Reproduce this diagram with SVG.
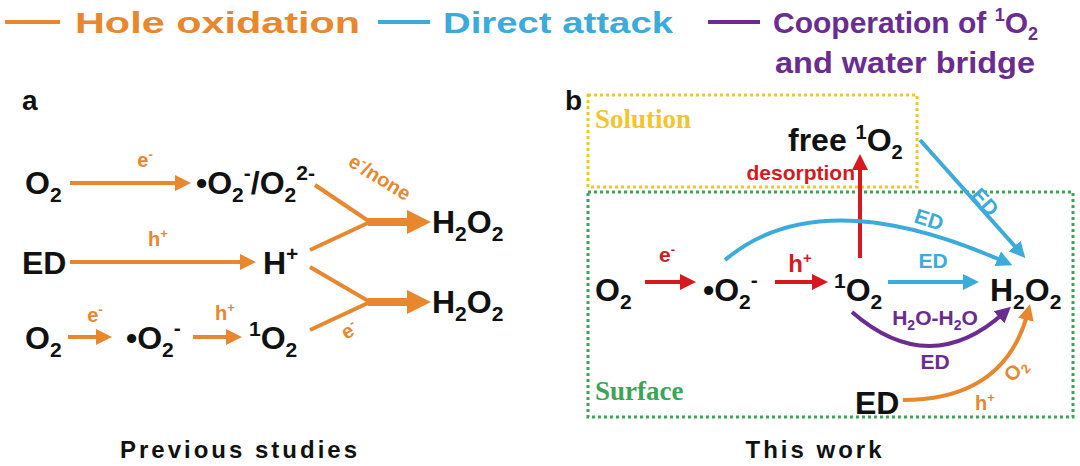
<svg xmlns="http://www.w3.org/2000/svg" width="1080" height="466" viewBox="0 0 1080 466">
<style>
text{font-family:"Liberation Sans",Arial,sans-serif;font-weight:bold}
.n{font-size:32px;fill:#111}
.lo{font-size:20px;fill:#E8872E}
.lb{font-size:21px;fill:#3AABDB}
.lr{font-size:21px;fill:#D7191F}
.lp{font-size:21px;fill:#6A2C91}
.leg{font-size:30px}
.o{stroke:#E8872E;stroke-width:4;fill:none}
.b{stroke:#3AABDB;stroke-width:4;fill:none}
.r{stroke:#D7191F;stroke-width:4;fill:none}
.p{stroke:#6A2C91;stroke-width:4;fill:none}
.cap{font-size:24px;fill:#111;letter-spacing:3px}
</style>
<defs>
<marker id="ao" markerWidth="4" markerHeight="4" refX="2" refY="2" orient="auto" markerUnits="strokeWidth"><path d="M0,0L4,2L0,4z" fill="#E8872E"/></marker>
<marker id="ab" markerWidth="4" markerHeight="4" refX="2" refY="2" orient="auto" markerUnits="strokeWidth"><path d="M0,0L4,2L0,4z" fill="#3AABDB"/></marker>
<marker id="ar" markerWidth="4" markerHeight="4" refX="2" refY="2" orient="auto" markerUnits="strokeWidth"><path d="M0,0L4,2L0,4z" fill="#D7191F"/></marker>
<marker id="ap" markerWidth="4" markerHeight="4" refX="2" refY="2" orient="auto" markerUnits="strokeWidth"><path d="M0,0L4,2L0,4z" fill="#6A2C91"/></marker>
<marker id="aot" markerWidth="3" markerHeight="3" refX="1" refY="1.5" orient="auto" markerUnits="strokeWidth"><path d="M0,0L3,1.5L0,3z" fill="#E8872E"/></marker>
</defs>
<rect width="1080" height="466" fill="#fff"/>
<g id="legend">
<line x1="5" y1="22" x2="60" y2="22" class="o"/>
<text x="75" y="33" class="leg" fill="#E8872E" textLength="285" lengthAdjust="spacingAndGlyphs">Hole oxidation</text>
<line x1="378" y1="22" x2="430" y2="22" class="b"/>
<text x="443" y="33" class="leg" fill="#3AABDB" textLength="230" lengthAdjust="spacingAndGlyphs">Direct attack</text>
<line x1="708" y1="22" x2="760" y2="22" class="p"/>
<text x="773" y="33" class="leg" fill="#6A2C91">Cooperation of <tspan font-size="18" dy="-12">1</tspan><tspan dy="12">O</tspan><tspan font-size="18" dy="7">2</tspan></text>
<text x="775" y="73" class="leg" fill="#6A2C91" textLength="260" lengthAdjust="spacingAndGlyphs">and water bridge</text>
</g>
<g id="panel-labels">
<text x="22" y="110" font-size="28" fill="#111">a</text>
<text x="565" y="110" font-size="28" fill="#111">b</text>
<text x="240" y="458" class="cap" text-anchor="middle">Previous studies</text>
<text x="815" y="458" class="cap" text-anchor="middle">This work</text>
</g>
<g id="boxes">
<rect x="588" y="95" width="329" height="92" fill="none" stroke="#F2C530" stroke-width="3" stroke-dasharray="3,3"/>
<rect x="588" y="192" width="485" height="225" fill="none" stroke="#3AA655" stroke-width="3" stroke-dasharray="3,3"/>
<text x="595" y="128" font-size="27" fill="#F2C530" style="font-family:'Liberation Serif',serif">Solution</text>
<text x="595" y="400" font-size="27" fill="#3AA655" style="font-family:'Liberation Serif',serif">Surface</text>
</g>
<g id="nodes-a">
<text id="a-o2-1" x="25" y="194" class="n">O<tspan font-size="21" dy="8">2</tspan></text>
<text id="a-sup" x="196" y="194" class="n">•O<tspan font-size="21" dy="8">2</tspan><tspan font-size="21" dy="-22">-</tspan><tspan dy="14">/O</tspan><tspan font-size="21" dy="8">2</tspan><tspan font-size="21" dy="-22">2-</tspan></text>
<text id="a-ed" x="22" y="274" class="n">ED</text>
<text id="a-h" x="263" y="274" class="n">H<tspan font-size="21" dy="-13">+</tspan></text>
<text id="a-o2-2" x="25" y="349" class="n">O<tspan font-size="21" dy="8">2</tspan></text>
<text id="a-sup2" x="126" y="349" class="n">•O<tspan font-size="21" dy="8">2</tspan><tspan font-size="21" dy="-22">-</tspan></text>
<text id="a-1o2" x="249" y="349" class="n"><tspan font-size="21" dy="-13">1</tspan><tspan dy="13">O</tspan><tspan font-size="21" dy="8">2</tspan></text>
<text id="a-h2o2-1" x="432" y="233" class="n">H<tspan font-size="21" dy="8">2</tspan><tspan dy="-8">O</tspan><tspan font-size="21" dy="8">2</tspan></text>
<text id="a-h2o2-2" x="432" y="313" class="n">H<tspan font-size="21" dy="8">2</tspan><tspan dy="-8">O</tspan><tspan font-size="21" dy="8">2</tspan></text>
</g>
<g id="nodes-b">
<text id="b-free" x="788" y="151" class="n" font-size="30">free <tspan font-size="20" dy="-12">1</tspan><tspan dy="12">O</tspan><tspan font-size="20" dy="8">2</tspan></text>
<text id="b-o2" x="595" y="301" class="n">O<tspan font-size="21" dy="8">2</tspan></text>
<text id="b-sup" x="703" y="301" class="n">•O<tspan font-size="21" dy="8">2</tspan><tspan font-size="21" dy="-22">-</tspan></text>
<text id="b-1o2" x="834" y="301" class="n"><tspan font-size="21" dy="-13">1</tspan><tspan dy="13">O</tspan><tspan font-size="21" dy="8">2</tspan></text>
<text id="b-h2o2" x="990" y="301" class="n">H<tspan font-size="21" dy="8">2</tspan><tspan dy="-8">O</tspan><tspan font-size="21" dy="8">2</tspan></text>
<text id="b-ed" x="855" y="414" class="n">ED</text>
</g>
<g id="connectors">
<line x1="70" y1="183" x2="183" y2="183" class="o" marker-end="url(#ao)"/>
<text x="145" y="167" class="lo" text-anchor="middle">e<tspan font-size="13" dy="-8">-</tspan></text>
<line x1="70" y1="262" x2="248" y2="262" class="o" marker-end="url(#ao)"/>
<text x="158" y="246" class="lo" text-anchor="middle">h<tspan font-size="13" dy="-8">+</tspan></text>
<line x1="68" y1="337" x2="104" y2="337" class="o" marker-end="url(#ao)"/>
<text x="95" y="322" class="lo" text-anchor="middle">e<tspan font-size="13" dy="-8">-</tspan></text>
<line x1="193" y1="337" x2="234" y2="337" class="o" marker-end="url(#ao)"/>
<text x="225" y="320" class="lo" text-anchor="middle">h<tspan font-size="13" dy="-8">+</tspan></text>
<path d="M315,185L370,222L310,250" class="o"/>
<line x1="368" y1="222" x2="415" y2="222" stroke="#E8872E" stroke-width="8" marker-end="url(#aot)"/>
<text x="0" y="0" class="lo" transform="translate(347,165) rotate(32)">e<tspan font-size="13" dy="-8">-</tspan><tspan dy="8">/none</tspan></text>
<path d="M310,267L370,302L310,330" class="o"/>
<line x1="368" y1="302" x2="415" y2="302" stroke="#E8872E" stroke-width="8" marker-end="url(#aot)"/>
<text x="0" y="0" class="lo" transform="translate(346,340) rotate(-30)">e<tspan font-size="13" dy="-8">-</tspan></text>

<line x1="645" y1="282" x2="688" y2="282" class="r" marker-end="url(#ar)"/>
<text x="667" y="262" class="lr" text-anchor="middle">e<tspan font-size="13" dy="-8">-</tspan></text>
<line x1="775" y1="282" x2="820" y2="282" class="r" marker-end="url(#ar)"/>
<text x="800" y="272" font-size="24" fill="#D7191F" text-anchor="middle">h<tspan font-size="15" dy="-9">+</tspan></text>
<line x1="860" y1="258" x2="860" y2="162" class="r" marker-end="url(#ar)"/>
<text x="855" y="180" class="lr" font-size="18" text-anchor="end">desorption</text>
<line x1="888" y1="282" x2="971" y2="282" class="b" marker-end="url(#ab)"/>
<text x="933" y="268" class="lb" text-anchor="middle">ED</text>
<path d="M725,260Q820,180 1005,262" class="b" marker-end="url(#ab)"/>
<text x="0" y="0" class="lb" transform="translate(913,222) rotate(18)">ED</text>
<line x1="920" y1="140" x2="1020" y2="252" class="b" marker-end="url(#ab)"/>
<text x="0" y="0" class="lb" transform="translate(970,196) rotate(48)">ED</text>
<path d="M852,312Q930,380 1005,312" class="p" marker-end="url(#ap)"/>
<text x="935" y="325" class="lp" text-anchor="middle">H<tspan font-size="14" dy="5">2</tspan><tspan dy="-5">O-H</tspan><tspan font-size="14" dy="5">2</tspan><tspan dy="-5">O</tspan></text>
<text x="935" y="369" class="lp" text-anchor="middle">ED</text>
<path d="M903,400Q1005,400 1028,312" class="o" marker-end="url(#ao)"/>
<text x="985" y="410" class="lo" text-anchor="middle">h<tspan font-size="13" dy="-8">+</tspan></text>
<text x="0" y="0" class="lo" transform="translate(1013,383) rotate(-50)">O<tspan font-size="13" dy="5">2</tspan></text>
</g>
</svg>
